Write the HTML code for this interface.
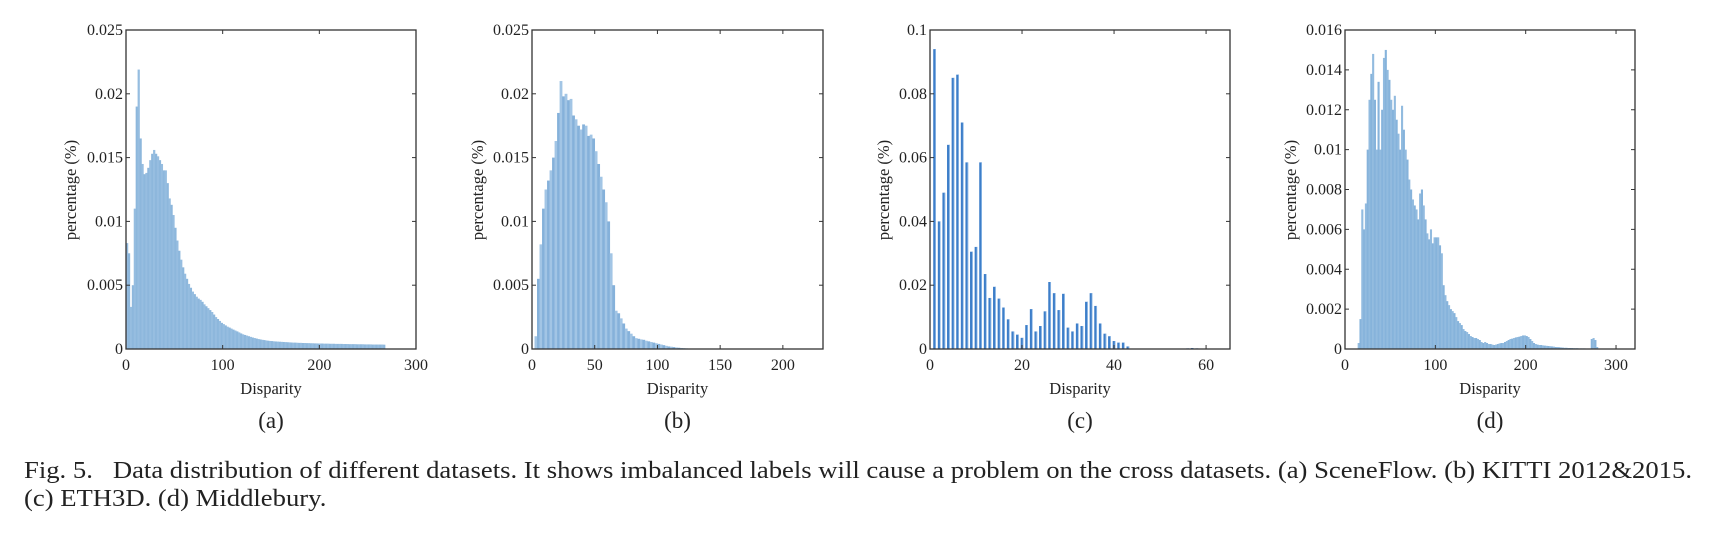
<!DOCTYPE html>
<html><head><meta charset="utf-8">
<style>
html,body{margin:0;padding:0;background:#fff;}
body{width:1726px;height:536px;position:relative;overflow:hidden;font-family:"Liberation Serif",serif;color:#222;}
svg{position:absolute;left:0;top:0;}
.cap{position:absolute;left:24px;font-size:24px;line-height:28px;white-space:nowrap;color:#222;transform-origin:0 0;}
</style></head>
<body>
<svg id="fig" width="1726" height="536"></svg>
<div class="cap" id="cap1" style="top:457px">Fig. 5.&nbsp;&nbsp; Data distribution of different datasets. It shows imbalanced labels will cause a problem on the cross datasets. (a) SceneFlow. (b) KITTI 2012&amp;2015.</div>
<div class="cap" id="cap2" style="top:485px">(c) ETH3D. (d) Middlebury.</div>
<script>
// Panel (a) SceneFlow: bins of width 2 starting at 0, values in units of 0.001
const aValues = [8.3,7.5,3.3,5,11,19,21.9,16.5,14.5,13.7,13.8,14.2,14.8,15.3,15.6,15.3,15.1,14.8,14.5,14.0,14.0,13,11.8,11.3,10.5,9.5,8.5,7.7,7,6.4,5.9,5.5,5.1,4.8,4.5,4.3,4.1,3.95,3.85,3.7,3.5,3.35,3.2,3.05,2.9,2.7,2.5,2.35,2.2,2.05,
1.95,1.85,1.75,1.68,1.6,1.52,1.45,1.38,1.3,1.22,1.15,1.1,1.05,1.0,0.95,0.9,0.86,0.82,0.78,0.75,0.72,0.7,0.67,0.65,0.63,0.62,0.6,0.59,0.58,0.57,0.56,0.55,0.54,0.53,0.52,0.51,0.5,0.5,0.49,0.48,0.48,0.47,0.47,0.46,0.46,0.45,0.45,0.44,0.44,0.43,0.43,0.43,0.42,0.42,0.42,0.41,0.41,0.41,0.4,0.4,0.4,0.4,0.39,0.39,0.39,0.38,0.38,0.38,0.38,0.37,0.37,0.37,0.37,0.36,0.36,0.36,0.36,0.35,0.35,0.35,0.35,0.35,0.35,0.34];
// Panel (b) KITTI: bins of width 2 starting at 2
const bValues = [1,5.5,8.2,11,12.5,13.2,14,15,16.3,18.5,21,19.8,20,19.5,19.6,18.3,18,17.5,17.2,17.6,17.5,16.7,16.8,16.5,15.5,14.5,13.5,12.5,11.5,10,7.5,5,3,2.8,2.4,2,1.6,1.4,1.2,1.0,0.85,0.8,0.75,0.72,0.65,0.6,0.55,0.5,0.45,0.4,0.35,0.3,0.25,0.2,0.18,0.15,0.12,0.1,0.08,0.06,0.05,0.04,0.03];
// Panel (c) ETH3D: disparity categories and values (units of 0.01)
const cCategories = [1,2,3,4,5,6,7,8,9,10,11,12,13,14,15,16,17,18,19,20,21,22,23,24,25,26,27,28,29,30,31,32,33,34,35,36,37,38,39,40,41,42,43,56,57,58];
const cValues = [9.4,4.0,4.9,6.4,8.5,8.6,7.1,5.85,3.05,3.2,5.85,2.35,1.6,1.95,1.58,1.3,0.93,0.55,0.45,0.35,0.75,1.25,0.55,0.72,1.18,2.1,1.75,1.22,1.73,0.67,0.55,0.8,0.72,1.48,1.75,1.35,0.8,0.48,0.4,0.25,0.2,0.2,0.08,0.02,0.03,0.02];
// Panel (d) Middlebury: bins of width 2 starting at 14 (units of 0.001)
const dValues = [0.3,1.5,7,6,7.3,10,12.5,13.8,14.8,12.5,10,13.4,10,12,14.6,15,14,13.5,12.5,12,12.7,11.5,10.8,10,12.2,11,10,9.5,8.5,8,7.5,7.2,7,6.5,7.8,8,7.2,6.5,5.8,5.5,6,5.3,5.6,5.6,5.6,5.2,4.8,3.2,2.7,2.4,2.2,2.0,1.9,1.8,1.6,1.4,1.3,1.2,1.0,0.9,0.85,0.75,0.65,0.6,0.55,0.55,0.5,0.45,0.35,0.3,0.35,0.3,0.25,0.25,0.22,0.2,0.22,0.25,0.28,0.3,0.3,0.35,0.4,0.45,0.5,0.52,0.55,0.58,0.6,0.62,0.65,0.68,0.68,0.65,0.6,0.5,0.4,0.3,0.25,0.22,0.2,0.2,0.18,0.17,0.16,0.15,0.14,0.13,0.12,0.1,0.1,0.09,0.08,0.07,0.06,0.06,0.05,0.05,0.05,0.04,0.04,0.04,0.03,0.03,0.03,0.03,0.02,0.02,0.02,0.5,0.55,0.45,0.1];
const aTicksX=[0,100,200,300], bTicksX=[0,50,100,150,200], cTicksX=[0,20,40,60], dTicksX=[0,100,200,300];
const aTicksY=["0","0.005","0.01","0.015","0.02","0.025"];
const cTicksY=["0","0.02","0.04","0.06","0.08","0.1"];
const dTicksY=["0","0.002","0.004","0.006","0.008","0.01","0.012","0.014","0.016"];

const NS="http://www.w3.org/2000/svg";
const svg=document.getElementById('fig');
function mk(tag,attrs,parent){const e=document.createElementNS(NS,tag);for(const k in attrs)e.setAttribute(k,attrs[k]);(parent||svg).appendChild(e);return e;}

function panel(o){
  const g=mk('g',{});
  
  
  const T=30,B=349;
  const sx=v=>o.L+(v/o.xmax)*(o.R-o.L);
  const sy=v=>B-(v/o.ymax)*(B-T);
  const bars=mk('g',{},g);
  
  
  o.xs.forEach((x,i)=>{
    const v=o.vals[i];
    const x0=sx(x-o.bw/2), x1=sx(x+o.bw/2);
    const r=mk('rect',{x:x0,y:sy(v),width:Math.max(0.5,x1-x0+(o.dense?0.3:0)),height:B-sy(v),fill:o.dense?(i%2?o.c1:o.c2):o.c1},bars);
    
    
    if(!o.dense){mk('rect',{x:x1-0.7,y:sy(v),width:0.7,height:B-sy(v),fill:o.c2},bars);}
  });
  const box=mk('rect',{x:o.L,y:T,width:o.R-o.L,height:B-T,fill:'none',stroke:'#333','stroke-width':1.3},g);
  
  
  o.xt.forEach(t=>{
    const x=sx(t);
    mk('line',{x1:x,x2:x,y1:B,y2:B-4,stroke:'#333'},g);
    mk('line',{x1:x,x2:x,y1:T,y2:T+4,stroke:'#333'},g);
    const tx=mk('text',{x:x,y:B+21,'text-anchor':'middle','font-size':16,fill:'#222'},g);
    tx.textContent=t;
    
    
  });
  const n=o.yt.length-1;
  o.yt.forEach((t,i)=>{
    const y=B-(i/n)*(B-T);
    mk('line',{x1:o.L,x2:o.L+4,y1:y,y2:y,stroke:'#333'},g);
    mk('line',{x1:o.R,x2:o.R-4,y1:y,y2:y,stroke:'#333'},g);
    const tx=mk('text',{x:o.L-3,y:y+5,'text-anchor':'end','font-size':16,fill:'#222'},g);
    tx.textContent=t;
    
    
  });
  const xl=mk('text',{x:(o.L+o.R)/2,y:394,'text-anchor':'middle','font-size':16.5,fill:'#222'},g);
  xl.textContent='Disparity';
  
  
  const yl=mk('text',{x:0,y:0,'text-anchor':'middle','font-size':16.5,fill:'#222',transform:`translate(${o.yl},${190}) rotate(-90)`},g);
  yl.textContent='percentage (%)';
  
  
  const sl=mk('text',{x:(o.L+o.R)/2,y:428,'text-anchor':'middle','font-size':23,fill:'#222'},g);
  sl.textContent='('+o.id+')';
  
  
}
const aX=aValues.map((v,i)=>1+2*i), bX=bValues.map((v,i)=>3+2*i), dX=dValues.map((v,i)=>15+2*i);
panel({id:'a',L:126,R:416,xmax:300,ymax:25,xs:aX,vals:aValues,bw:2,xt:aTicksX,yt:aTicksY,yl:76,dense:true,c1:'#8db7dc',c2:'#96bde0'});
panel({id:'b',L:532,R:823,xmax:232,ymax:25,xs:bX,vals:bValues,bw:2,xt:bTicksX,yt:aTicksY,yl:483,dense:true,c1:'#85b1da',c2:'#a2c5e5'});
panel({id:'c',L:930,R:1230,xmax:65.2,ymax:10,xs:cCategories,vals:cValues,bw:0.6,xt:cTicksX,yt:cTicksY,yl:889,dense:false,c1:'#3d7ec9',c2:'#9cc2ea'});
panel({id:'d',L:1345,R:1635,xmax:321,ymax:16,xs:dX,vals:dValues,bw:2,xt:dTicksX,yt:dTicksY,yl:1296,dense:true,c1:'#86b3db',c2:'#92bbdf'});
const c1=document.getElementById('cap1'), c2=document.getElementById('cap2');
const s=1668/c1.getBoundingClientRect().width;
c1.style.transform='scaleX('+s+')';
c2.style.transform='scaleX('+s+')';
</script>
</body></html>
